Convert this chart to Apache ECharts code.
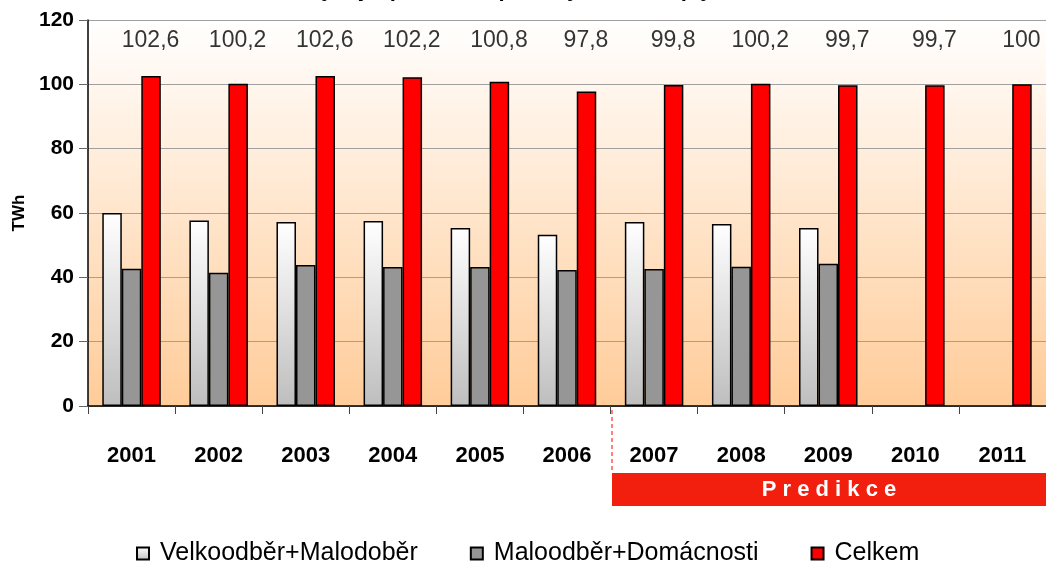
<!DOCTYPE html>
<html>
<head>
<meta charset="utf-8">
<script src="https://cdn.jsdelivr.net/npm/echarts@6/dist/echarts.min.js"></script>
<style>
html,body{margin:0;padding:0;background:#fff;}
#c{width:1046px;height:562px;}
</style>
</head>
<body>
<div id="c"></div>
<script>
var years = ['2001','2002','2003','2004','2005','2006','2007','2008','2009','2010','2011'];
var velkoMalo = [60.0, 57.7, 57.2, 57.5, 55.3, 53.2, 57.2, 56.6, 55.3, null, null];
var maloDom = [42.7, 41.4, 43.8, 43.2, 43.2, 42.3, 42.6, 43.3, 44.2, null, null];
var celkem = [102.6, 100.2, 102.6, 102.2, 100.8, 97.8, 99.8, 100.2, 99.7, 99.7, 100];
var yTicks = [0, 20, 40, 60, 80, 100, 120];
var seriesNames = ['Velkoodběr+Malodoběr', 'Maloodběr+Domácnosti', 'Celkem'];
var titleText = 'Vývoj a predikce spotřeby zemního plynu';
var axisName = 'TWh';
var bandText = 'P r e d i k c e';

var chart = echarts.init(document.getElementById('c'), null, {renderer: 'canvas'});
var labelY = 113.6;
var fmt = function (v) { return String(v).replace('.', ','); };

var option = {
  animation: false,
  backgroundColor: '#ffffff',
  title: {
    text: titleText,
    left: 'center',
    top: -26,
    textStyle: {fontFamily: 'Liberation Sans', fontWeight: 'bold', fontSize: 22, color: '#000'}
  },
  grid: {
    left: 88, top: 20, width: 960, height: 386,
    show: true, borderWidth: 0,
    backgroundColor: new echarts.graphic.LinearGradient(0, 0, 0, 1, [
      {offset: 0, color: '#FFFFFF'},
      {offset: 1, color: '#FFCC99'}
    ])
  },
  legend: {
    data: seriesNames,
    left: 131, top: 536,
    itemWidth: 12, itemHeight: 12, itemGap: 52,
    icon: 'rect',
    textStyle: {fontFamily: 'Liberation Sans', fontSize: 25, color: '#000', padding: [0, 0, 0, 6]}
  },
  xAxis: {
    type: 'category',
    data: years,
    axisLine: {lineStyle: {color: '#000', width: 1.5}},
    axisTick: {show: true, length: 8, lineStyle: {color: '#444'}},
    axisLabel: {margin: 39, fontFamily: 'Liberation Sans', fontWeight: 'bold', fontSize: 22, color: '#000'}
  },
  yAxis: {
    type: 'value',
    min: yTicks[0], max: yTicks[yTicks.length - 1], interval: 20,
    name: axisName,
    nameLocation: 'middle',
    nameGap: 59,
    nameRotate: 90,
    nameTextStyle: {fontFamily: 'Liberation Sans', fontWeight: 'bold', fontSize: 17, color: '#000'},
    axisLine: {show: true, lineStyle: {color: '#000', width: 1.5}},
    axisTick: {show: true, length: 9, lineStyle: {color: '#666'}},
    splitLine: {lineStyle: {color: '#A0A0A0', width: 1}},
    axisLabel: {margin: 14, fontFamily: 'Liberation Sans', fontWeight: 'bold', fontSize: 21, color: '#000'}
  },
  series: [
    {
      name: seriesNames[0], type: 'bar', data: velkoMalo, barWidth: 19.5, barGap: '0%',
      itemStyle: {
        color: new echarts.graphic.LinearGradient(0, 0, 0, 1, [
          {offset: 0, color: '#FFFFFF'}, {offset: 1, color: '#BEBEBE'}
        ]),
        borderColor: '#000', borderWidth: 1.5
      }
    },
    {
      name: seriesNames[1], type: 'bar', data: maloDom, barWidth: 19.5, barGap: '0%',
      itemStyle: {color: '#969696', borderColor: '#000', borderWidth: 1.5}
    },
    {
      name: seriesNames[2], type: 'bar', data: celkem, barWidth: 19.5, barGap: '0%',
      itemStyle: {color: '#FF0000', borderColor: '#000', borderWidth: 1.5}
    },
    {
      name: 'labels', type: 'scatter', symbolSize: 0, silent: true,
      data: celkem.map(function (v, i) { return [i, labelY, v]; }),
      label: {
        show: true, position: 'inside', offset: [19, 0],
        formatter: function (p) { return fmt(p.value[2]); },
        fontFamily: 'Liberation Sans', fontSize: 23, color: '#000'
      }
    }
  ],
  graphic: [
    {
      type: 'line', silent: true,
      shape: {x1: 612, y1: 410, x2: 612, y2: 473},
      style: {stroke: '#FF0000', lineWidth: 1, lineDash: [4, 3]}
    },
    {
      type: 'rect', silent: true,
      shape: {x: 612, y: 473, width: 440, height: 33},
      style: {fill: '#F21F0F'}
    },
    {
      type: 'text', silent: true,
      x: 829, y: 490,
      style: {text: bandText, fill: '#fff', font: 'bold 22px "Liberation Sans"', align: 'center', verticalAlign: 'middle'}
    }
  ]
};
chart.setOption(option);
</script>
</body>
</html>
